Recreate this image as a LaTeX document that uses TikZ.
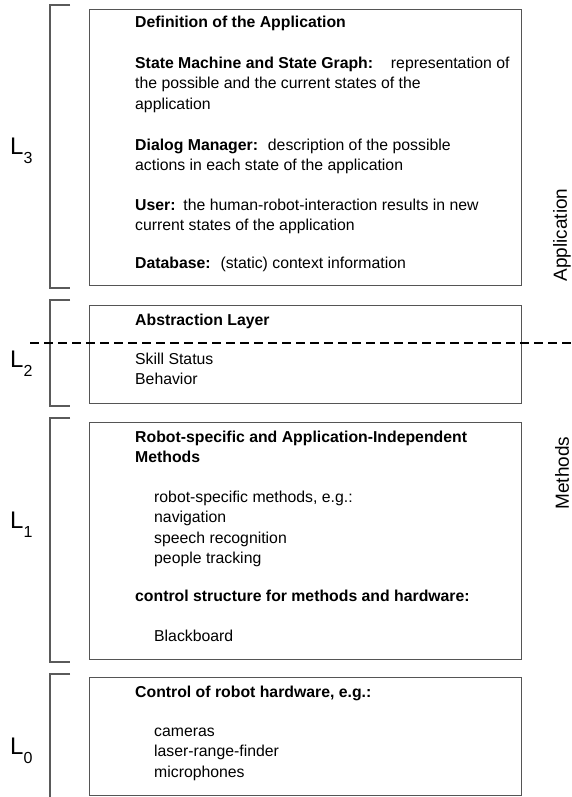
\documentclass[tikz,border=0pt]{standalone}
\usepackage{fontspec}
\setmainfont{Liberation Sans}
\definecolor{boxgray}{RGB}{85,85,85}
\definecolor{brgray}{RGB}{90,90,90}
\tikzset{
  layerbox/.style={draw=boxgray, line width=1.2pt, rectangle, inner sep=0pt, anchor=north west},
  txt/.style={anchor=base west, inner sep=0pt, font=\fontsize{15.8}{20}\selectfont},
  btxt/.style={txt, font=\fontsize{15.8}{20}\selectfont\bfseries},
  sidelabel/.style={rotate=90, inner sep=0pt, font=\fontsize{19}{19}\selectfont},
  levlabel/.style={anchor=base west, inner sep=0pt, font=\fontsize{24}{24}\selectfont},
  bracketline/.style={draw=brgray, line width=1.2pt},
  sepline/.style={draw=black, line width=1.5pt, dash pattern=on 9pt off 5pt}
}
\newcommand{\levsub}[1]{\raisebox{-9pt}{\fontsize{16}{16}\selectfont #1}}
\begin{document}
\begin{tikzpicture}[x=1pt,y=-1pt]
\useasboundingbox (0,0) rectangle (572,797);
% boxes
\node[layerbox, minimum width=432pt, minimum height=276pt] (app) at (89,9) {};
\node[layerbox, minimum width=432pt, minimum height=98pt] (abs) at (89,305) {};
\node[layerbox, minimum width=432pt, minimum height=237pt] (meth) at (89,422) {};
\node[layerbox, minimum width=432pt, minimum height=118pt] (hw) at (89,677) {};
% box 1 text
\node[btxt] (t1) at (135,28) {Definition of the Application};
\node[txt] (t2) at (135,68.5) {\textbf{State Machine and State Graph:}\hspace{12pt} representation of};
\node[txt] (t3) at (135,89) {the possible and the current states of the};
\node[txt] (t4) at (135,109.5) {application};
\node[txt] (t5) at (135,150) {\textbf{Dialog Manager:}\hspace{4pt} description of the possible};
\node[txt] (t6) at (135,170.5) {actions in each state of the application};
\node[txt] (t7) at (135,210) {\textbf{User:}\hspace{2pt} the human-robot-interaction results in new};
\node[txt] (t8) at (135,230.5) {current states of the application};
\node[txt] (t9) at (135,268) {\textbf{Database:}\hspace{4pt} (static) context information};
% box 2 text
\node[btxt] (a1) at (135,325) {Abstraction Layer};
\node[txt] (a2) at (135,364) {Skill Status};
\node[txt] (a3) at (135,384.5) {Behavior};
% box 3 text
\node[btxt] (m1) at (135,442) {Robot-specific and Application-Independent};
\node[btxt] (m2) at (135,462.5) {Methods};
\node[txt] (m3) at (154,502) {robot-specific methods, e.g.:};
\node[txt] (m4) at (154,522.5) {navigation};
\node[txt] (m5) at (154,543) {speech recognition};
\node[txt] (m6) at (154,563.5) {people tracking};
\node[btxt] (m7) at (135,601) {control structure for methods and hardware:};
\node[txt] (m8) at (154,641) {Blackboard};
% box 4 text
\node[btxt] (h1) at (135,697) {Control of robot hardware, e.g.:};
\node[txt] (h2) at (154,736) {cameras};
\node[txt] (h3) at (154,756.5) {laser-range-finder};
\node[txt] (h4) at (154,777) {microphones};
% brackets
\coordinate (b3a) at (70,5);   \coordinate (b3b) at (50,5);
\coordinate (b3c) at (50,288); \coordinate (b3d) at (70,288);
\coordinate (b2a) at (70,300); \coordinate (b2b) at (50,300);
\coordinate (b2c) at (50,406); \coordinate (b2d) at (70,406);
\coordinate (b1a) at (70,418); \coordinate (b1b) at (50,418);
\coordinate (b1c) at (50,662); \coordinate (b1d) at (70,662);
\coordinate (b0a) at (70,674); \coordinate (b0b) at (50,674);
\coordinate (b0c) at (50,800);
\draw[bracketline] (b3a) -- (b3b) -- (b3c) -- (b3d);
\draw[bracketline] (b2a) -- (b2b) -- (b2c) -- (b2d);
\draw[bracketline] (b1a) -- (b1b) -- (b1c) -- (b1d);
\draw[bracketline] (b0a) -- (b0b) -- (b0c);
% level labels
\node[levlabel] (L3) at (10,154) {L\levsub{3}};
\node[levlabel] (L2) at (10,367) {L\levsub{2}};
\node[levlabel] (L1) at (10,528) {L\levsub{1}};
\node[levlabel] (L0) at (10,754) {L\levsub{0}};
% side labels
\node[sidelabel] (sapp) at (562,235) {Application};
\node[sidelabel] (smeth) at (562,473) {Methods};
% separating dashed line
\coordinate (dl) at (30,343);
\coordinate (dr) at (572,343);
\draw[sepline] (dl) -- (dr);
\end{tikzpicture}
\end{document}
